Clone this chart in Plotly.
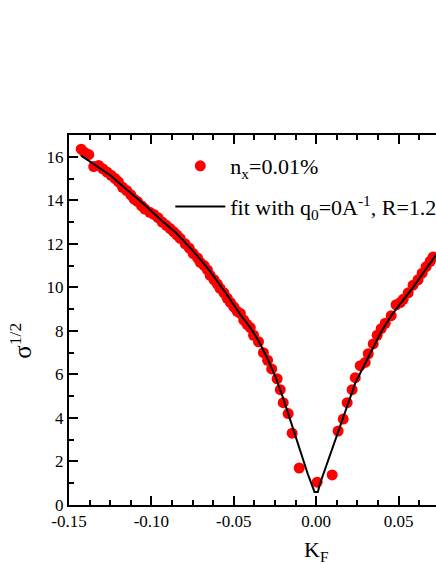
import plotly.graph_objects as go

# pontos medidos (K_F, sigma^1/2)
k_pts = [-0.1426, -0.1405, -0.1380, -0.1350, -0.1320, -0.1295, -0.1270, -0.1245, -0.1220, -0.1200,
         -0.1175, -0.1150, -0.1125, -0.1105, -0.1085, -0.1060, -0.1040, -0.1010, -0.0985, -0.0960,
         -0.0935, -0.0910, -0.0886, -0.0865, -0.0845, -0.0825, -0.0795, -0.0770, -0.0746, -0.0720,
         -0.0704, -0.0680, -0.0660, -0.0643, -0.0620, -0.0600, -0.0583, -0.0560, -0.0540, -0.0520,
         -0.0500, -0.0480, -0.0460, -0.0440, -0.0420, -0.0400, -0.0380, -0.0350, -0.0320, -0.0295,
         -0.0270, -0.0237, -0.0218, -0.0200, -0.0170, -0.0146, -0.0103, 0.0006, 0.0097, 0.0133,
         0.0164, 0.0188, 0.0218, 0.0237, 0.0267, 0.0297, 0.0316, 0.0346, 0.0370, 0.0394,
         0.0419, 0.0455, 0.0485, 0.0510, 0.0528, 0.0558, 0.0588, 0.0618, 0.0643, 0.0667,
         0.0692, 0.0710]
s_pts = [16.35, 16.2, 16.1, 15.55, 15.6, 15.45, 15.3, 15.15, 15.0, 14.85,
         14.6, 14.45, 14.25, 14.05, 13.95, 13.75, 13.6, 13.45, 13.35, 13.2,
         13.0, 12.85, 12.7, 12.55, 12.4, 12.25, 12.0, 11.8, 11.55, 11.35,
         11.15, 11.0, 10.8, 10.55, 10.35, 10.15, 9.95, 9.75, 9.5, 9.3,
         9.1, 8.9, 8.8, 8.5, 8.3, 8.15, 7.8, 7.5, 7.0, 6.65,
         6.25, 5.8, 5.3, 4.7, 4.2, 3.3, 1.7, 1.05, 1.38, 3.4,
         3.95, 4.7, 5.3, 5.85, 6.4, 6.55, 6.95, 7.4, 7.8, 8.1,
         8.35, 8.7, 9.2, 9.3, 9.45, 9.75, 10.1, 10.35, 10.65, 10.95,
         11.2, 11.4]

# curva de ajuste
k_fit = [-0.1426, -0.135, -0.125, -0.115, -0.105, -0.095, -0.085, -0.075, -0.065, -0.055,
         -0.046, -0.040, -0.035, -0.030, -0.025, -0.020, -0.015, -0.010, -0.005, -0.001,
         0.001, 0.0024, 0.0070, 0.0127, 0.0188, 0.0237, 0.0297, 0.0346, 0.0394, 0.0455,
         0.0510, 0.0588, 0.0667, 0.0728]
s_fit = [16.05, 15.65, 15.15, 14.5, 13.85, 13.15, 12.5, 11.7, 10.8, 9.75,
         8.75, 8.15, 7.55, 6.8, 5.95, 4.9, 3.75, 2.5, 1.4, 0.6,
         0.6, 1.0, 2.0, 3.2, 4.55, 5.6, 6.5, 7.25, 7.95, 8.7,
         9.25, 10.0, 10.85, 11.5]

x_tick_vals = [-0.15, -0.10, -0.05, 0.00, 0.05]
x_tick_text = ['-0.15', '-0.10', '-0.05', '0.00', '0.05']
y_tick_vals = [0, 2, 4, 6, 8, 10, 12, 14, 16]

fonte = 'Liberation Serif'

fig = go.Figure()
fig.add_trace(go.Scatter(x=k_pts, y=s_pts, mode='markers', name='n<sub>x</sub>=0.01%',
                         marker=dict(color='#ff0000', size=11), legendgroup='a'))
fig.add_trace(go.Scatter(x=k_fit, y=s_fit, mode='lines', name='fit with q<sub>0</sub>=0A<sup>-1</sup>, R=1.2',
                         line=dict(color='black', width=2), legendgroup='b'))

eixo = dict(showgrid=False, zeroline=False, showline=True, linecolor='black', linewidth=2,
            ticks='inside', ticklen=9, tickwidth=1.5, tickcolor='black',
            tickfont=dict(family=fonte, size=17, color='black'))

fig.update_xaxes(range=[-0.15, 0.0727], tickvals=x_tick_vals, ticktext=x_tick_text, mirror='ticks',
                 minor=dict(dtick=0.0125, ticks='inside', ticklen=5, tickwidth=1.5, tickcolor='black'),
                 **eixo)
fig.update_yaxes(range=[0, 17], tickvals=y_tick_vals, mirror=False,
                 minor=dict(dtick=1, ticks='inside', ticklen=5, tickwidth=1.5, tickcolor='black'),
                 **eixo)

fig.add_annotation(text='σ<sup>1/2</sup>', textangle=-90, xref='paper', yref='paper',
                   x=-0.13, y=0.445, xanchor='center', yanchor='middle', showarrow=False,
                   font=dict(family=fonte, size=25, color='black'))
fig.add_annotation(text='K<sub>F</sub>', xref='x', yref='paper', x=0.0, y=-0.082,
                   xanchor='center', yanchor='top', showarrow=False,
                   font=dict(family=fonte, size=22, color='black'))

fig.update_layout(width=436, height=564, margin=dict(l=69, r=0, t=135, b=59, autoexpand=False),
                  paper_bgcolor='white', plot_bgcolor='white',
                  legend=dict(x=0.276, y=0.973, xanchor='left', yanchor='top', bgcolor='rgba(0,0,0,0)',
                              font=dict(family=fonte, size=22, color='black'),
                              itemwidth=50, tracegroupgap=9))
# tira a margem padrao da pagina para a figura ocupar a janela toda
fig.write_html("out.html", config={'displayModeBar': False},
               post_script="document.body.style.margin='0';document.body.style.overflow='hidden';")
